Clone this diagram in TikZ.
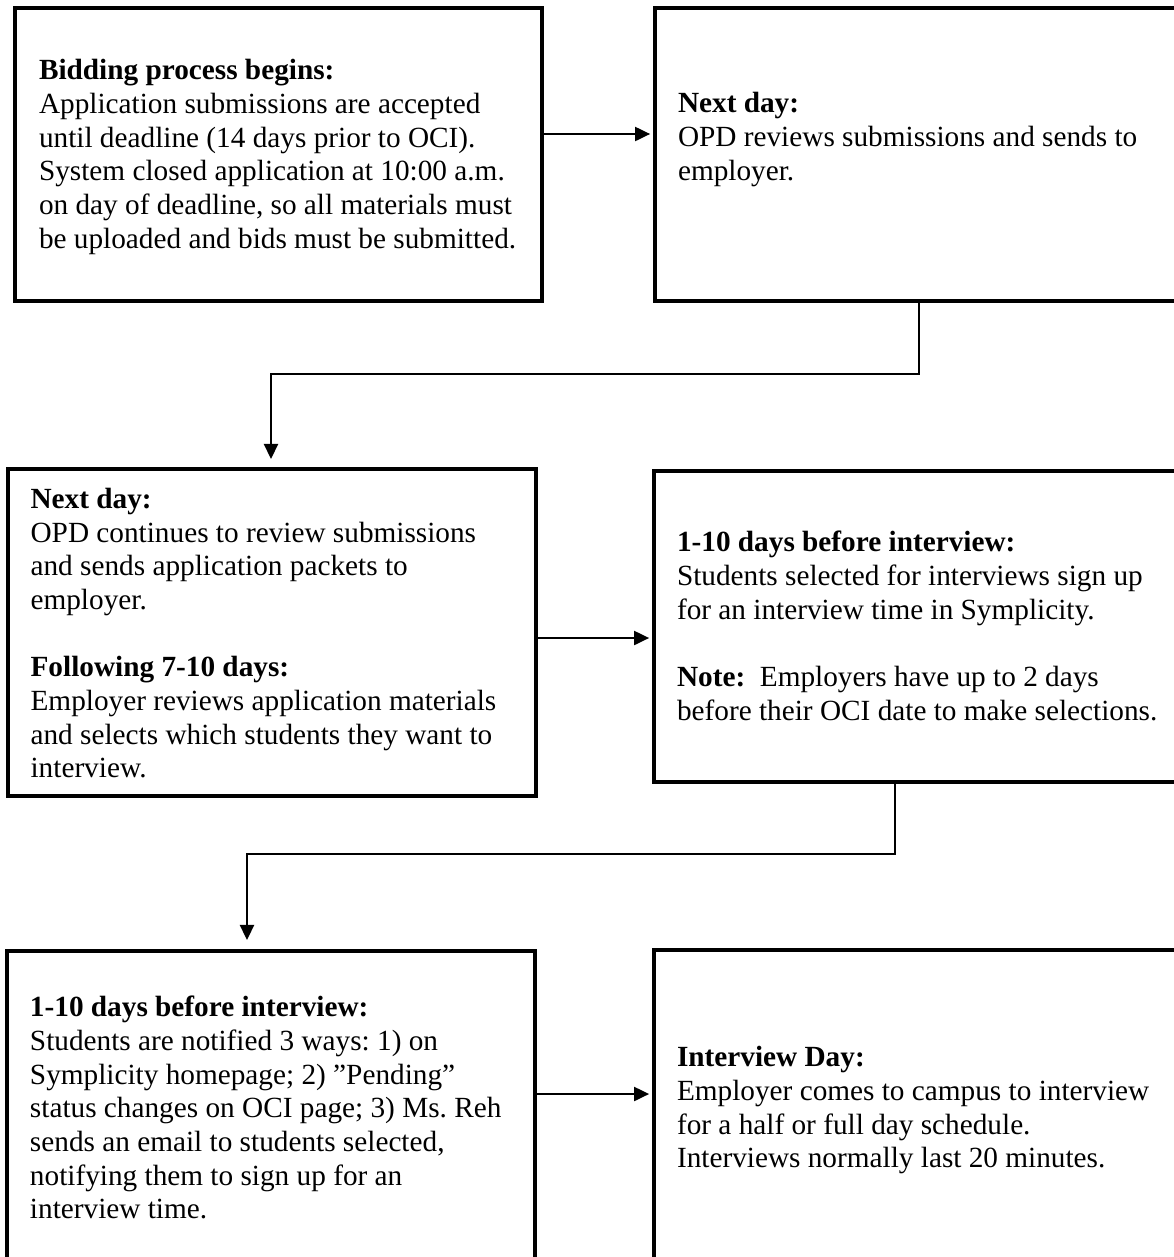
\documentclass[tikz,border=0pt]{standalone}
\usepackage{fontspec}
\setmainfont{Liberation Serif}
\usetikzlibrary{arrows.meta}
\frenchspacing
\tikzset{
  box/.style={draw, line width=1.55pt, rectangle, anchor=north west, inner sep=0pt, outer sep=0pt},
  txt/.style={anchor=north west, inner sep=0pt, outer sep=0pt, align=left, font=\fontsize{12pt}{13.8pt}\selectfont\frenchspacing},
  arr/.style={-{Triangle[length=6.2pt,width=5.8pt]}, line width=0.8pt}
}
\begin{document}
\begin{tikzpicture}[x=0.41pt, y=-0.41pt]
\useasboundingbox (0,0) rectangle (1173,1257);
% boxes
\node[box, minimum width=527*0.41pt, minimum height=293*0.41pt] (b1) at (15,8) {};
\node[box, minimum width=530*0.41pt, minimum height=293*0.41pt] (b2) at (655,8) {};
\node[box, minimum width=528*0.41pt, minimum height=327*0.41pt] (b3) at (8,469) {};
\node[box, minimum width=531*0.41pt, minimum height=311*0.41pt] (b4) at (654,471) {};
\node[box, minimum width=528*0.41pt, minimum height=319*0.41pt] (b5) at (7,951) {};
\node[box, minimum width=531*0.41pt, minimum height=320*0.41pt] (b6) at (654,950) {};
% texts
\node[txt] (t1) at (39,56.4) {\strut\textbf{Bidding process begins:}\\
Application submissions are accepted\\
until deadline (14 days prior to OCI).\\
System closed application at 10:00 a.m.\\
on day of deadline, so all materials must\\
be uploaded and bids must be submitted.};
\node[txt] (t2) at (678,89.4) {\strut\textbf{Next day:}\\
OPD reviews submissions and sends to\\
employer.};
\node[txt] (t3) at (30.6,485) {\strut\textbf{Next day:}\\
OPD continues to review submissions\\
and sends application packets to\\
employer.\\[13.8pt]
\textbf{Following 7-10 days:}\\
Employer reviews application materials\\
and selects which students they want to\\
interview.};
\node[txt] (t4) at (677,528.4) {\strut\textbf{1-10 days before interview:}\\
Students selected for interviews sign up\\
for an interview time in Symplicity.\\[13.8pt]
\textbf{Note:}\ \ Employers have up to 2 days\\
before their OCI date to make selections.};
\node[txt] (t5) at (30,993.4) {\strut\textbf{1-10 days before interview:}\\
Students are notified 3 ways: 1) on\\
Symplicity homepage; 2) ”Pending”\\
status changes on OCI page; 3) Ms. Reh\\
sends an email to students selected,\\
notifying them to sign up for an\\
interview time.};
\node[txt] (t6) at (677,1043.4) {\strut\textbf{Interview Day:}\\
Employer comes to campus to interview\\
for a half or full day schedule.\\
Interviews normally last 20 minutes.};
% connector coordinates
\coordinate (r1) at (0,134);
\coordinate (r2) at (0,638);
\coordinate (r3) at (0,1094);
\coordinate (k1) at (919,374);
\coordinate (d1) at (271,0);
\coordinate (k2) at (895,854);
\coordinate (d2) at (247,0);
% connectors
\draw[arr, shorten >=2pt] (b1.east |- r1) -- (b2.west |- r1);
\draw[arr, shorten >=4.1pt] (b2.south -| k1) -- (k1) -| (b3.north -| d1);
\draw[arr, shorten >=2pt] (b3.east |- r2) -- (b4.west |- r2);
\draw[arr, shorten >=4.5pt] (b4.south -| k2) -- (k2) -| (b5.north -| d2);
\draw[arr, shorten >=2pt] (b5.east |- r3) -- (b6.west |- r3);
\end{tikzpicture}
\end{document}
